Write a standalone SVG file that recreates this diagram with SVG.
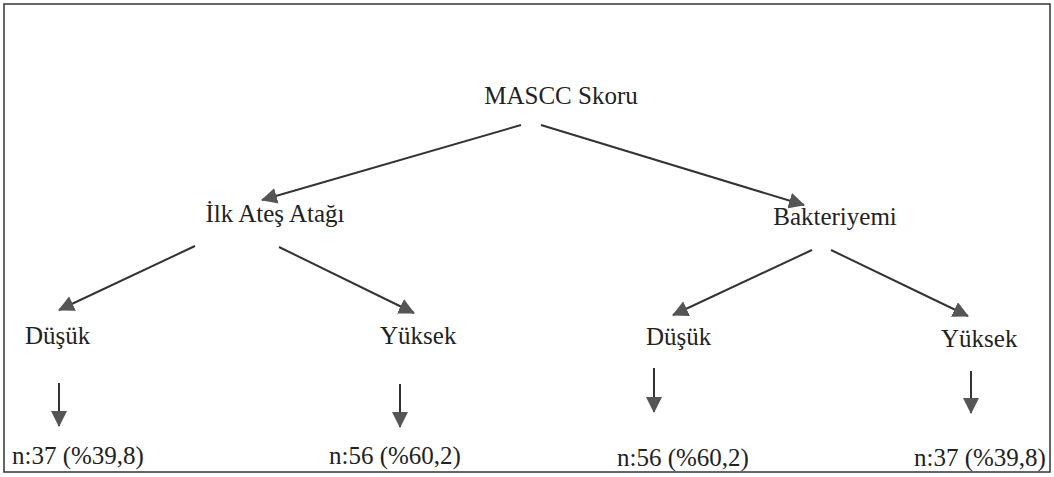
<svg xmlns="http://www.w3.org/2000/svg" width="1054" height="477" viewBox="0 0 1054 477">
<style>
.t{font-family:"Liberation Serif","Times New Roman",serif;font-size:25px;fill:#222;}
.c{stroke:#333;stroke-width:2;fill:none;marker-end:url(#ah);}
</style>
<defs>
<marker id="ah" markerUnits="userSpaceOnUse" markerWidth="16" markerHeight="16" refX="15" refY="8" orient="auto" viewBox="0 0 16 16">
<path d="M0,0 L16,8 L0,16 z" fill="#555"/>
</marker>
</defs>
<rect x="4" y="4" width="1046" height="468" fill="#fff" stroke="#333" stroke-width="1.5"/>
<g id="connectors">
<line class="c" x1="521" y1="125" x2="262" y2="200"/>
<line class="c" x1="541" y1="125" x2="804" y2="205"/>
<line class="c" x1="195" y1="246" x2="59" y2="310"/>
<line class="c" x1="279" y1="247" x2="414" y2="313"/>
<line class="c" x1="812" y1="250" x2="673" y2="315"/>
<line class="c" x1="831" y1="250" x2="968" y2="316"/>
<line class="c" x1="59" y1="383" x2="59" y2="426"/>
<line class="c" x1="400" y1="384" x2="400" y2="427"/>
<line class="c" x1="654" y1="368" x2="654" y2="412"/>
<line class="c" x1="971" y1="371" x2="971" y2="413"/>
</g>
<g id="n-mascc"><text class="t" x="561" y="104" text-anchor="middle">MASCC Skoru</text></g>
<g id="n-ilk"><text class="t" x="275" y="222" text-anchor="middle">İlk Ateş Atağı</text></g>
<g id="n-bakteriyemi"><text class="t" x="835" y="225" text-anchor="middle">Bakteriyemi</text></g>
<g id="n-dusuk1"><text class="t" x="25" y="344">Düşük</text></g>
<g id="n-yuksek1"><text class="t" x="380" y="344">Yüksek</text></g>
<g id="n-dusuk2"><text class="t" x="646" y="345">Düşük</text></g>
<g id="n-yuksek2"><text class="t" x="941" y="347">Yüksek</text></g>
<g id="n-r1"><text class="t" x="12" y="464">n:37 (%39,8)</text></g>
<g id="n-r2"><text class="t" x="329" y="464">n:56 (%60,2)</text></g>
<g id="n-r3"><text class="t" x="617" y="466">n:56 (%60,2)</text></g>
<g id="n-r4"><text class="t" x="914" y="466">n:37 (%39,8)</text></g>
</svg>
